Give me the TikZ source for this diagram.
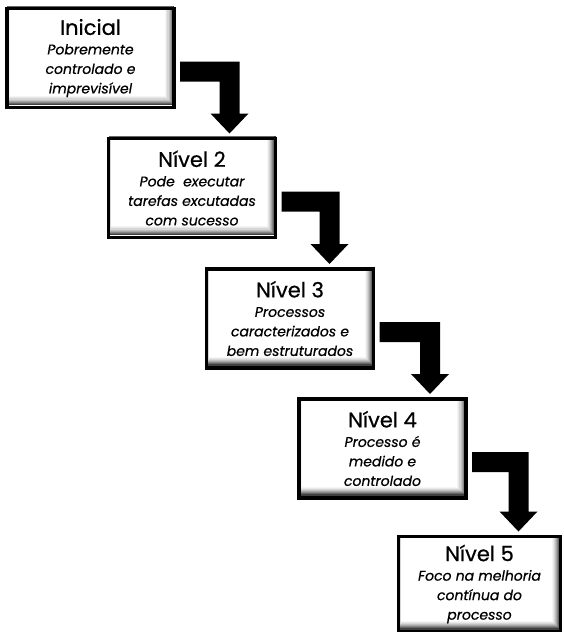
\documentclass[tikz,border=0pt]{standalone}
\usepackage{fontspec}
\setmainfont{Poppins}[FakeBold=0.6]
\usetikzlibrary{calc}
\tikzset{
  lvlbox/.style={draw=black, line width=3.5pt, outer sep=0pt,
    inner sep=0pt, align=center, minimum width=167pt, minimum height=99pt,
    font=\fontsize{14}{19.5}\selectfont\itshape},
  stair/.style={fill=black}
}
\newcommand{\ttf}{\fontsize{21}{24}\selectfont\upshape}
\newcommand{\innershade}[4]{%
  \foreach \kk/\cc in {0/25,1/40,2/53,3/65,4/75,5/84,6/91,7/96,8/100}{
    \fill[white!\cc!black] ({#1-#3/2+\kk*0.35},{#2-#4/2+\kk*0.35})
      rectangle ({#1+#3/2-\kk*1.1},{#2+#4/2-\kk*1.1});
  }}
\newcommand{\stairarrow}[3]{%
  \fill[stair] let \p1=(#1.north east), \p2=(#2.north west) in
    (\x1+6pt,\y1-53pt) -- (\x2+#3pt,\y1-53pt) -- (\x2+#3pt,\y2+25pt)
    -- (\x2+#3pt+9pt,\y2+25pt) -- (\x2+#3pt-10pt,\y2+5pt)
    -- (\x2+#3pt-29pt,\y2+25pt) -- (\x2+#3pt-20pt,\y2+25pt)
    -- (\x2+#3pt-20pt,\y1-73pt) -- (\x1+6pt,\y1-73pt) -- cycle;}
\begin{document}
\begin{tikzpicture}[x=1pt,y=-1pt]
\useasboundingbox (0,0) rectangle (563,632);
\innershade{90.5}{55.5}{167}{99}
\node[lvlbox] (b1) at (90.5,58)
  {{\ttf Inicial}\\[0pt]Pobremente\\controlado e\\imprevisível};
\innershade{192}{185.5}{167}{99}
\node[lvlbox] (b2) at (192,188)
  {{\ttf Nível 2}\\[0pt]Pode\ \ executar\\tarefas excutadas\\com sucesso};
\innershade{290}{316}{167}{99}
\node[lvlbox] (b3) at (290,318.5)
  {{\ttf Nível 3}\\[0pt]Processos\\caracterizados e\\bem estruturados};
\innershade{382.5}{446}{167}{99}
\node[lvlbox] (b4) at (382.5,448.5)
  {{\ttf Nível 4}\\[0pt]Processo é\\medido e\\controlado};
\innershade{479.5}{582}{162}{95}
\node[lvlbox, minimum width=162pt, minimum height=95pt] (b5) at (479.5,584)
  {{\ttf Nível 5}\\[0pt]Foco na melhoria\\contínua do\\processo};
\stairarrow{b1}{b2}{131}
\stairarrow{b2}{b3}{133}
\stairarrow{b3}{b4}{141}
\stairarrow{b4}{b5}{130}
\end{tikzpicture}
\end{document}
